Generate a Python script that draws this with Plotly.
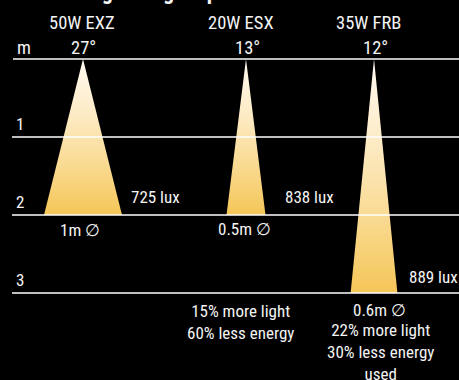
import plotly.graph_objects as go

# Lamp comparison data
lamps = ["50W EXZ", "20W ESX", "35W FRB"]
beam_angles = [27, 13, 12]          # degrees
throw_depth = [2, 2, 3]             # metres
spot_diameter = [1.0, 0.5, 0.6]     # metres
illuminance = [725, 838, 889]       # lux
notes = ["", "15% more light<br>60% less energy",
         "22% more light<br>30% less energy<br>used"]
depth_ticks = [1, 2, 3]

W, H = 459, 380
PX_PER_M = 78.0
TOP_PX = 59.0
cone_centers = [1.064, 3.154, 4.795]   # metres from left edge

FONT = "Liberation Sans Narrow, Roboto Condensed, Arial Narrow, sans-serif"
WHITE = "#f4f4f4"


def paper(px, py):
    return px / W, 1 - py / H


def depth_px(d):
    return TOP_PX + d * PX_PER_M


fig = go.Figure()

gradient = [[0.0, "#fffaf2"], [0.35, "#fdebc6"], [0.7, "#f9d98e"], [1.0, "#f5c658"]]

for cx, d, dia in zip(cone_centers, throw_depth, spot_diameter):
    fig.add_trace(go.Scatter(
        x=[cx, cx - dia / 2, cx + dia / 2, cx],
        y=[0, d, d, 0],
        mode="lines",
        line=dict(width=0, color="rgba(0,0,0,0)"),
        fill="toself",
        fillgradient=dict(type="vertical", colorscale=gradient, start=0, stop=d),
        hoverinfo="skip",
        showlegend=False,
    ))

shapes = []
# depth rules, drawn over the beams
shapes.append(dict(type="line", xref="paper", yref="y", x0=13 / W, x1=1,
                   y0=0, y1=0, line=dict(color="#bdbdbd", width=2), layer="above"))
for t in depth_ticks:
    shapes.append(dict(type="line", xref="paper", yref="y", x0=12 / W, x1=1,
                       y0=t, y1=t, line=dict(color="white", width=1.5), layer="above"))

ann = []


def label(text, px, py, size=17, xanchor="center", bold=False):
    x, y = paper(px, py)
    ann.append(dict(text=f"<b>{text}</b>" if bold else text, x=x, y=y,
                    xref="paper", yref="paper", xanchor=xanchor, yanchor="middle",
                    showarrow=False, font=dict(family=FONT, size=size, color=WHITE)))


# cut-off heading
label("Beam angle &amp; light spread", 24, -9, size=22, xanchor="left", bold=True)

# lamp names and beam angles
name_px = [82, 241, 368]
for name, a, cx, npx in zip(lamps, beam_angles, cone_centers, name_px):
    label(name, npx, 23, size=18.5)
    label(f"{a}°", cx * PX_PER_M + 1, 48, size=18.5)

# depth axis labels
label("m", 15, 48, size=18.5, xanchor="left")
for t in depth_ticks:
    label(str(t), 14, depth_px(t) - 13, size=17, xanchor="left")

# illuminance at the end of each beam
lux_px = [(129, 197), (283, 197), (407, 277)]
for lx, (px, py) in zip(illuminance, lux_px):
    label(f"{lx} lux", px, py, size=17, xanchor="left")

# spot diameters
dia_px = [(80, 230), (244, 229), (379, 310)]
for dia, (px, py) in zip(spot_diameter, dia_px):
    label(f"{dia:g}m ∅", px, py, size=17)

# savings notes
note_px = [(0, 0), (240, 322), (380, 352)]
for n, (px, py) in zip(notes, note_px):
    if n:
        label(n, px, py, size=17)

fig.update_layout(
    width=W, height=H,
    margin=dict(l=0, r=0, t=0, b=0),
    paper_bgcolor="black", plot_bgcolor="black",
    xaxis=dict(range=[0, W / PX_PER_M], visible=False, fixedrange=True),
    yaxis=dict(range=[(H - TOP_PX) / PX_PER_M, -TOP_PX / PX_PER_M],
               visible=False, fixedrange=True),
    shapes=shapes, annotations=ann,
    showlegend=False,
)

fig.write_html("out.html")
